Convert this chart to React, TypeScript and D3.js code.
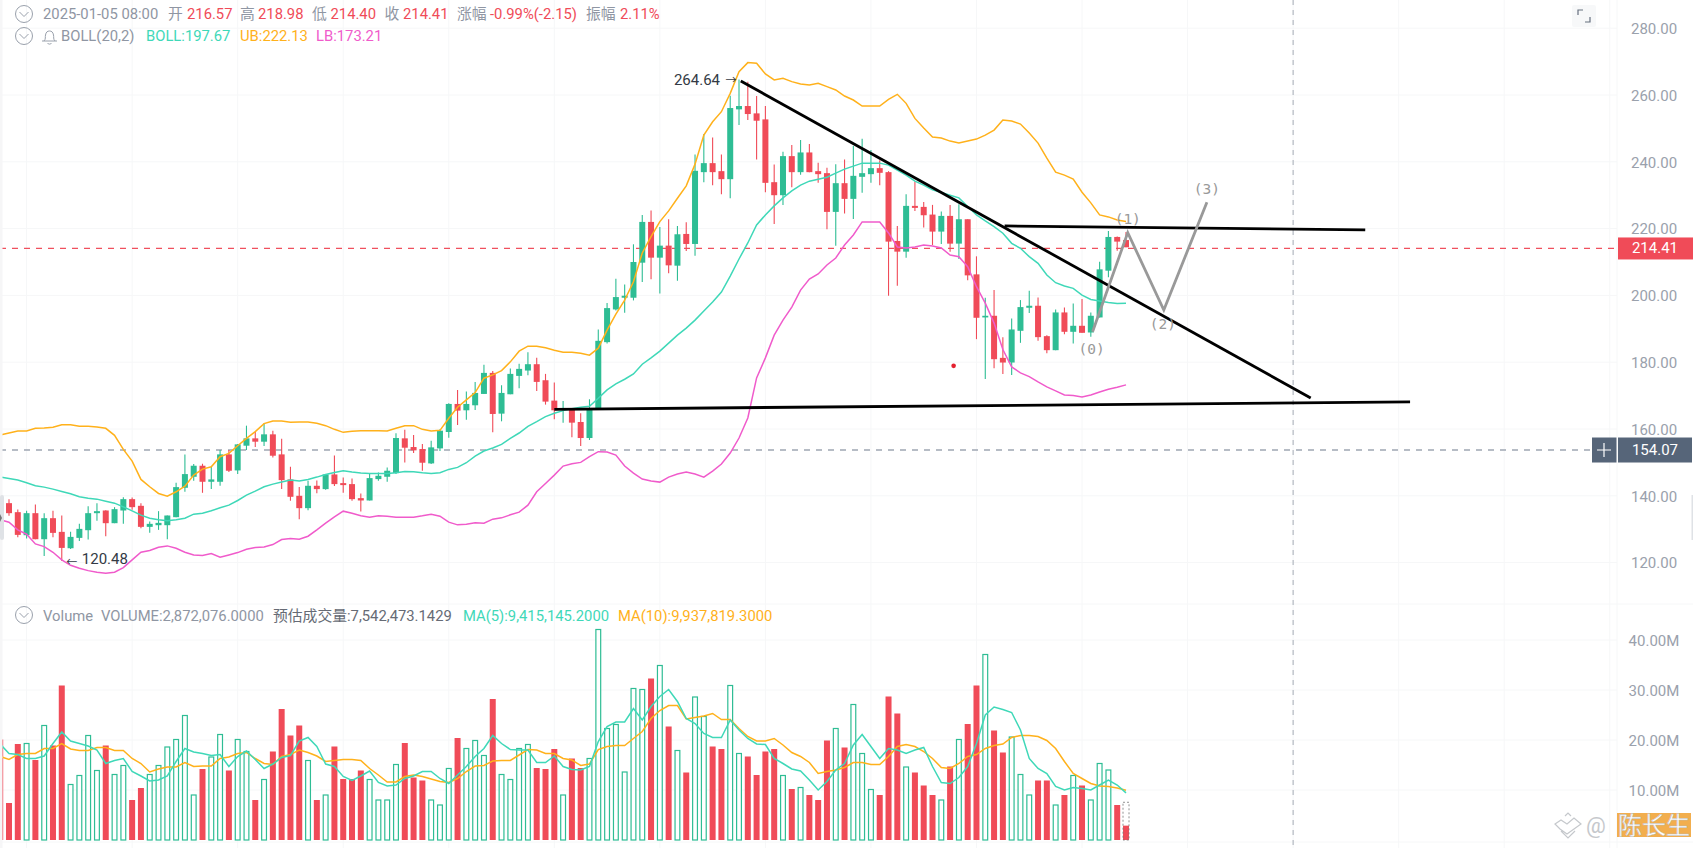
import { useEffect, useRef } from "react";
import * as d3 from "d3";

const width = 1693;
const height = 848;

const opens = [
  137.8,135.1,128.2,134.8,127.0,133.3,129.2,124.3,127.4,129.7,
  134.8,135.6,131.8,135.6,139.0,137.0,130.7,131.2,131.2,133.6,
  142.4,145.7,149.0,144.2,144.2,152.4,147.6,155.0,157.2,156.2,
  158.4,152.4,144.9,140.0,136.3,143.0,142.0,146.4,143.8,143.5,
  139.3,138.6,145.0,145.7,146.8,157.2,154.6,154.0,149.7,154.2,
  159.1,167.5,165.6,167.1,170.5,176.8,164.6,170.4,175.9,177.5,
  179.4,174.6,168.5,165.7,166.2,162.1,157.3,166.0,186.0,195.8,
  199.3,199.3,209.8,222.0,211.3,214.9,208.9,218.4,215.4,236.9,
  239.6,237.2,234.8,255.7,256.7,254.5,252.7,233.9,230.0,241.7,
  236.9,242.8,237.2,236.6,225.0,233.6,228.9,235.5,236.3,238.1,
  236.9,216.3,213.1,226.8,226.5,224.2,219.1,223.8,215.5,222.8,
  206.3,193.4,193.9,181.3,179.9,189.4,196.3,196.9,187.8,183.6,
  194.9,189.1,190.9,188.9,193.4,207.4,217.5,216.57,
];
const closes = [
  134.8,128.3,134.8,127.0,133.3,128.9,124.4,127.7,130.1,134.8,
  135.4,131.8,136.0,139.0,136.6,130.7,131.6,131.9,134.1,142.6,
  146.5,149.0,144.2,144.9,152.4,147.5,155.4,157.2,156.2,158.4,
  152.0,144.7,139.7,136.3,143.0,142.0,146.4,143.5,143.2,139.0,
  138.6,145.3,146.0,147.5,157.3,154.4,153.6,149.9,154.5,159.5,
  167.5,165.5,167.5,170.8,176.8,164.5,170.8,176.5,178.0,179.4,
  174.1,168.2,165.6,166.3,161.9,157.3,166.1,186.4,196.2,199.5,
  199.9,210.0,222.0,211.3,214.9,209.0,218.3,215.4,237.3,239.6,
  236.9,234.8,256.1,256.7,254.3,252.3,233.7,230.0,241.7,236.9,
  242.8,236.9,236.3,225.0,233.6,228.9,235.8,236.6,238.1,236.7,
  216.1,213.1,226.8,226.2,224.0,219.1,223.8,215.5,222.8,206.0,
  193.3,193.9,180.9,179.9,189.8,196.5,196.9,187.5,183.6,194.9,
  189.1,190.9,188.8,193.9,207.8,217.5,216.1,214.41,
];
const highs = [
  139.0,135.9,135.5,137.4,134.8,135.5,134.1,129.2,131.6,136.9,
  137.8,135.7,136.6,139.6,139.5,137.8,132.3,135.4,134.1,143.9,
  152.4,149.5,149.6,148.7,153.7,153.7,155.5,161.0,159.2,161.7,
  159.5,157.1,148.7,142.6,144.5,144.6,146.5,152.1,145.5,145.2,
  140.7,146.5,147.0,148.5,158.7,159.8,158.2,155.5,156.5,159.9,
  167.7,171.7,171.2,174.1,179.2,177.4,173.1,178.1,179.5,183.0,
  181.3,176.5,173.9,168.4,166.3,164.7,168.9,189.8,197.7,205.0,
  203.3,215.3,224.1,225.4,220.5,222.8,220.8,221.9,242.2,248.3,
  247.3,242.2,259.8,264.64,264.0,259.7,256.7,239.2,243.0,245.0,
  246.5,245.3,239.7,238.2,239.3,240.7,244.7,246.9,243.5,240.5,
  237.2,220.8,230.3,234.1,228.0,227.1,225.1,227.1,227.3,222.8,
  211.7,199.3,201.6,187.5,193.1,198.6,201.4,199.4,188.1,195.8,
  196.4,197.6,198.9,194.9,210.1,219.3,217.6,218.98,
];
const lows = [
  134.0,127.6,127.2,127.0,122.0,127.6,120.48,124.1,126.5,126.9,
  132.5,127.9,131.8,131.6,135.8,130.3,128.9,129.8,127.0,133.6,
  141.2,144.5,140.9,142.0,143.0,147.1,146.5,153.7,154.6,154.9,
  151.5,142.0,138.5,133.0,135.7,140.8,141.8,142.9,140.9,138.5,
  135.3,138.6,144.5,144.2,146.5,150.0,152.8,147.5,149.5,153.4,
  157.4,161.2,162.8,165.7,170.5,159.0,162.3,170.4,172.2,176.1,
  171.4,167.3,162.9,161.9,157.5,154.9,156.7,166.0,185.6,195.5,
  194.8,198.5,204.0,204.8,200.6,206.6,204.4,213.3,211.9,233.9,
  233.0,230.3,229.1,251.0,252.5,240.7,230.9,221.4,227.1,232.4,
  236.1,236.9,233.7,219.8,214.9,224.5,222.9,230.7,233.7,233.0,
  199.9,202.9,211.3,225.3,220.3,215.1,215.4,213.1,210.9,204.5,
  186.9,175.0,178.2,176.5,176.2,185.8,194.7,186.4,182.7,183.6,
  188.4,185.6,188.8,187.6,193.4,205.4,213.4,214.40,
];

// these four start one bar earlier than the candles (the bar cut off at the left edge)
const upperBand = [
  158.2,
  158.8,159.4,159.4,160.2,160.3,160.5,161.3,161.3,160.8,160.8,
  160.6,160.2,158.1,153.9,150.4,144.9,142.7,140.7,139.9,141.2,
  142.9,146.2,148.0,148.7,151.7,152.7,155.0,157.2,159.2,161.6,
  162.4,162.4,162.0,162.1,162.1,161.7,161.0,159.9,159.0,159.3,
  159.5,159.5,159.5,159.4,160.2,161.0,161.0,159.9,159.4,159.6,
  163.2,166.5,168.7,170.9,175.2,176.2,177.5,180.1,183.3,184.8,
  184.8,184.3,183.6,183.0,183.0,182.7,182.1,184.2,189.6,194.4,
  198.6,204.1,212.7,217.6,222.1,225.3,229.1,232.8,239.3,248.0,
  252.0,255.0,260.5,267.0,269.7,269.5,266.3,264.5,265.0,264.0,
  263.3,263.0,263.5,262.5,261.5,259.7,258.5,256.7,256.7,256.7,
  258.7,260.2,257.5,253.0,250.1,247.4,247.1,246.2,245.6,246.2,
  246.8,248.0,249.5,252.5,252.2,251.3,248.6,245.6,241.1,236.9,
  236.0,234.8,230.9,227.7,224.1,223.5,222.6,222.13,
];
const midBand = [
  145.6,
  145.2,144.7,143.9,143.0,142.6,142.0,141.3,140.6,139.7,139.3,
  139.0,138.4,137.8,136.7,135.5,134.2,133.3,132.8,132.5,132.8,
  133.3,134.5,134.8,135.5,136.4,137.2,138.6,140.2,141.4,142.7,
  143.5,144.1,144.7,144.4,144.9,145.6,146.4,147.0,147.5,147.1,
  146.8,146.7,146.7,146.7,146.9,147.3,147.2,146.9,146.7,146.9,
  147.9,148.5,149.9,151.9,153.4,154.3,155.4,157.2,158.8,160.8,
  162.2,163.7,164.7,165.5,166.1,166.5,166.8,169.2,171.7,173.5,
  174.9,176.5,179.4,181.3,183.3,185.7,188.1,190.2,192.6,195.3,
  198.0,201.0,205.8,210.9,215.7,221.1,224.1,226.8,229.2,231.3,
  233.0,234.2,234.8,235.4,236.6,237.8,238.7,239.6,239.6,239.6,
  239.0,237.5,236.0,234.2,233.0,231.6,230.8,230.0,229.2,226.6,
  224.1,222.3,220.6,218.6,215.6,214.1,211.6,209.6,206.1,203.8,
  202.8,202.1,200.1,198.8,198.3,197.9,197.6,197.67,
];
const lowerBand = [
  132.8,
  132.1,129.8,128.5,125.6,124.8,123.1,120.8,119.2,118.3,117.6,
  117.1,116.8,117.1,118.5,120.8,123.1,123.6,124.6,125.0,124.3,
  123.1,122.3,122.1,122.7,121.6,122.3,123.0,124.0,124.5,124.7,
  125.4,126.9,127.2,127.0,127.9,129.8,131.8,133.7,135.4,134.8,
  134.0,133.6,134.0,133.9,133.6,133.6,133.6,134.0,134.5,133.9,
  132.1,131.3,131.5,131.9,131.8,133.0,133.4,134.3,135.1,137.2,
  141.2,143.7,146.2,148.9,149.6,150.0,151.7,153.2,153.1,152.2,
  148.9,146.8,145.0,144.4,144.1,145.6,146.5,147.1,146.5,145.6,
  147.4,149.5,152.8,157.3,163.3,175.3,181.3,188.1,192.6,196.5,
  201.6,204.9,206.4,209.1,211.2,215.1,218.1,222.0,222.0,222.0,
  218.7,214.5,214.2,214.5,215.1,214.8,214.2,212.1,211.6,208.6,
  202.6,197.7,191.7,183.8,178.6,176.8,175.7,174.1,172.6,171.4,
  170.2,170.0,169.6,170.2,171.1,171.9,172.5,173.21,
];
const volumes = [
  20.1,
  7.4,19.2,19.3,16.0,22.9,18.9,30.9,11.1,12.9,20.9,
  13.9,18.9,13.1,14.9,8.0,10.4,13.1,14.9,18.6,20.1,
  24.9,9.0,14.2,16.6,21.1,13.9,20.1,17.7,8.0,12.1,
  17.7,26.2,20.9,22.9,15.9,8.0,9.0,18.7,12.2,12.2,
  13.9,12.1,8.0,8.0,15.1,19.4,12.5,11.9,8.0,7.0,
  14.3,20.4,18.3,19.9,16.9,28.2,13.1,12.1,18.3,19.1,
  14.4,14.2,18.2,9.0,16.3,14.4,16.3,42.1,22.3,23.1,
  13.6,30.3,30.1,32.3,34.9,22.7,17.9,13.5,28.6,24.7,
  18.7,18.2,30.9,17.3,16.7,13.0,17.7,18.2,12.9,10.2,
  10.5,9.0,8.0,19.9,22.3,18.5,27.1,17.3,10.1,9.0,
  28.7,25.3,14.6,13.5,10.9,9.0,8.0,14.7,20.1,23.2,
  30.9,37.1,21.9,17.5,20.6,13.1,9.0,11.9,11.9,7.0,
  9.0,12.9,10.9,8.0,15.3,14.0,7.0,2.87,
];
const volMa5 = [
  19.2,
  17.3,17.1,16.3,16.3,16.8,19.3,21.6,19.8,19.3,18.8,
  18.0,15.3,15.9,16.3,13.7,12.8,11.8,12.0,12.8,15.7,
  18.3,17.6,17.3,16.9,17.1,14.7,16.7,17.8,16.1,14.3,
  15.2,16.5,16.9,19.8,20.5,18.7,15.2,14.7,12.7,11.9,
  12.8,13.8,11.5,10.8,11.0,12.3,12.8,13.7,13.7,12.3,
  11.3,13.0,14.7,16.7,18.3,20.9,19.3,18.1,18.0,18.0,
  15.5,15.5,16.8,14.7,14.1,14.0,14.7,19.7,22.7,23.6,
  23.6,26.3,24.0,26.7,28.7,30.1,27.7,24.3,23.3,21.3,
  20.5,20.5,24.0,22.0,20.3,19.2,19.1,16.3,15.3,14.2,
  13.8,12.0,10.0,11.7,14.0,15.3,19.0,21.1,18.7,16.3,
  18.3,18.0,17.3,18.0,18.5,14.7,11.5,11.3,12.5,14.7,
  19.3,25.0,26.6,26.1,25.5,22.0,16.3,14.3,13.3,10.7,
  10.0,10.5,10.3,10.0,11.0,12.0,11.0,9.415,
];
const volMa10 = [
  16.7,
  16.1,17.1,17.3,17.3,18.3,18.3,19.3,18.2,17.9,17.9,
  18.5,18.5,17.9,17.9,16.3,15.3,13.6,14.2,14.6,14.6,
  15.5,14.7,14.8,14.8,16.3,16.6,17.3,17.5,16.3,15.3,
  15.1,16.7,17.1,18.0,17.5,16.8,15.7,15.9,16.1,16.1,
  15.9,14.3,13.0,11.6,11.6,12.7,13.0,12.7,12.2,11.7,
  11.5,12.3,13.7,14.8,14.9,15.8,15.9,15.9,17.0,18.1,
  18.0,17.3,17.3,16.3,16.0,14.9,15.2,18.1,18.7,18.9,
  18.9,20.3,21.7,24.3,25.9,26.9,26.9,24.2,24.5,24.8,
  25.3,24.1,24.1,22.3,20.7,19.8,19.8,20.3,19.0,17.5,
  16.7,15.5,13.3,13.7,14.0,14.5,15.5,15.5,15.1,15.1,
  16.7,18.7,19.1,18.7,17.7,16.3,14.5,14.3,15.3,16.7,
  17.1,18.3,18.9,19.2,20.5,20.9,20.9,20.7,19.9,18.3,
  15.7,13.3,12.3,11.3,10.8,10.7,10.4,9.938,
];
const estimatedVolume = 7.542;
const lastPrice = 214.41;
const markedPrice = 154.07;

// hand drawn lines on the chart: [bar index, price]
const fallingLine = [[83.2, 264.2], [148, 169.3]];
const supportLine = [[62, 165.9], [159.3, 168.1]];
const neckLine = [[113.2, 220.8], [154.2, 219.6]];
const wavePath = [[123.2, 189.1], [127.2, 218.8], [131.3, 195.6], [136.2, 227.9]];
const waveLabels = [
  { label: "(0)", bar: 123.1, price: 182.6 },
  { label: "(1)", bar: 127.2, price: 221.4 },
  { label: "(2)", bar: 131.2, price: 189.8 },
  { label: "(3)", bar: 136.2, price: 230.4 },
];
const redDot = [107.4, 178.9];
const verticalGridBars = d3.range(2, 190, 12);
const crosshairBar = 146;

const priceTicks = [120, 140, 160, 180, 200, 220, 240, 260, 280];
const volumeTicks = [10, 20, 30, 40];

const green = "#2ebd94";
const red = "#f04b58";
const orange = "#ffb11b";
const teal = "#3fd8b8";
const pink = "#f05bcb";
const gray = "#8f96a3";
const font = "Roboto, 'Noto Sans CJK SC', sans-serif";

export default function App() {
  const ref = useRef<SVGSVGElement | null>(null);

  useEffect(() => {
    const svg = d3.select(ref.current!);
    svg.selectAll("*").remove();

    const x = d3.scaleLinear().domain([0, 127]).range([9, 1126]);
    const y = d3.scaleLinear().domain([120, 280]).range([562.6, 28.2]);
    const yVol = d3.scaleLinear().domain([0, 40]).range([840, 640]);
    const isUp = (i: number) => i > 0 && closes[i - 1] >= opens[i - 1];
    const lineY = (p: number) => y(p) + 1.2;

    svg.append("rect").attr("width", width).attr("height", height).attr("fill", "#fff");

    // grid
    const grid = svg.append("g").attr("stroke", "#f6f7f8").attr("stroke-width", 1);
    grid.selectAll("line.v").data(verticalGridBars).join("line")
      .attr("x1", (d) => x(d)).attr("x2", (d) => x(d))
      .attr("y1", 0).attr("y2", height);
    grid.selectAll("line.p").data(priceTicks).join("line")
      .attr("x1", 0).attr("x2", 1617).attr("y1", (d) => y(d)).attr("y2", (d) => y(d));
    grid.selectAll("line.m").data(volumeTicks).join("line")
      .attr("x1", 0).attr("x2", 1617).attr("y1", (d) => yVol(d)).attr("y2", (d) => yVol(d));
    grid.selectAll("line.b").data([604, 842]).join("line")
      .attr("x1", 0).attr("x2", width).attr("y1", (d) => d).attr("y2", (d) => d);
    grid.append("line").attr("x1", 1617).attr("x2", 1617).attr("y1", 0).attr("y2", height);

    // right axes
    const axisPrice = d3.axisRight(y).tickValues(priceTicks).tickSize(0).tickFormat((d) => d3.format(".2f")(d as number));
    const axisVol = d3.axisRight(yVol).tickValues(volumeTicks).tickSize(0).tickFormat((d) => `${d3.format(".2f")(d as number)}M`);
    [svg.append("g").call(axisPrice), svg.append("g").call(axisVol)].forEach((g) => {
      g.attr("transform", "translate(1654,0.5)");
      g.select(".domain").remove();
      g.selectAll("text")
        .attr("x", 0).attr("text-anchor", "middle")
        .style("font", `15px ${font}`).style("fill", "#9aa1ac");
    });

    // price lines
    svg.append("line").attr("x1", 0).attr("x2", 1617).attr("y1", lineY(lastPrice)).attr("y2", lineY(lastPrice))
      .attr("stroke", "#f0505e").attr("stroke-dasharray", "6 6").attr("stroke-width", 1.3);
    svg.append("line").attr("x1", 0).attr("x2", 1592).attr("y1", lineY(markedPrice)).attr("y2", lineY(markedPrice))
      .attr("stroke", "#9ea7b3").attr("stroke-dasharray", "6 6").attr("stroke-width", 1.3);
    svg.append("line").attr("x1", x(crosshairBar)).attr("x2", x(crosshairBar)).attr("y1", 0).attr("y2", height)
      .attr("stroke", "#a6acb5").attr("stroke-dasharray", "5 5").attr("stroke-width", 1);

    // candles
    const candles = svg.append("g").selectAll("g").data(opens.map((o, i) => i)).join("g");
    candles.append("line")
      .attr("x1", (i) => x(i)).attr("x2", (i) => x(i))
      .attr("y1", (i) => y(highs[i])).attr("y2", (i) => y(lows[i]))
      .attr("stroke", (i) => (closes[i] >= opens[i] ? green : red)).attr("stroke-width", 1.1);
    candles.append("rect")
      .attr("x", (i) => x(i) - 3).attr("width", 6)
      .attr("y", (i) => y(Math.max(opens[i], closes[i])))
      .attr("height", (i) => Math.max(1, Math.abs(y(opens[i]) - y(closes[i]))))
      .attr("fill", (i) => (closes[i] >= opens[i] ? green : red));

    // bands
    const bandLine = d3.line<number>().x((_, i) => x(i - 1)).y((d) => y(d));
    [[upperBand, orange], [midBand, teal], [lowerBand, pink]].forEach(([vals, color]) => {
      svg.append("path").attr("d", bandLine(vals as number[]))
        .attr("fill", "none").attr("stroke", color as string).attr("stroke-width", 1.5);
    });

    // volume bars
    svg.append("g").selectAll("rect").data(volumes).join("rect")
      .attr("x", (_, i) => x(i - 1) - 3 + (isUp(i) ? 0.6 : 0))
      .attr("width", (_, i) => (isUp(i) ? 4.8 : 6))
      .attr("y", (d) => yVol(d))
      .attr("height", (d) => yVol(0) - yVol(d))
      .attr("fill", (_, i) => (isUp(i) ? "#fff" : red))
      .attr("stroke", (_, i) => (isUp(i) ? green : "none"))
      .attr("stroke-width", 1.2);
    svg.append("rect")
      .attr("x", x(127) - 3).attr("width", 6)
      .attr("y", yVol(estimatedVolume)).attr("height", yVol(0) - yVol(estimatedVolume))
      .attr("fill", "none").attr("stroke", "#777").attr("stroke-width", 0.8).attr("stroke-dasharray", "2 2");

    const volLine = d3.line<number>().x((_, i) => x(i - 1)).y((d) => yVol(d));
    [[volMa10, orange], [volMa5, teal]].forEach(([vals, color]) => {
      svg.append("path").attr("d", volLine(vals as number[]))
        .attr("fill", "none").attr("stroke", color as string).attr("stroke-width", 1.5);
    });

    // drawings
    const xyLine = d3.line<number[]>().x((d) => x(d[0])).y((d) => y(d[1]));
    [fallingLine, supportLine, neckLine].forEach((pts) => {
      svg.append("path").attr("d", xyLine(pts)).attr("fill", "none").attr("stroke", "#000").attr("stroke-width", 2.8);
    });
    svg.append("path").attr("d", xyLine(wavePath)).attr("fill", "none").attr("stroke", "#999").attr("stroke-width", 2.8);
    svg.append("g").selectAll("text").data(waveLabels).join("text")
      .attr("x", (d) => x(d.bar)).attr("y", (d) => y(d.price))
      .attr("text-anchor", "middle")
      .style("font", "14.5px 'DejaVu Sans Mono', monospace").style("fill", "#999")
      .text((d) => d.label);
    svg.append("circle").attr("cx", x(redDot[0])).attr("cy", y(redDot[1])).attr("r", 2.3).attr("fill", "#e4212f");

    // high and low marks
    const markFont = `15px ${font}`;
    svg.append("text").attr("x", x(83) - 19).attr("y", y(264.64) + 5).attr("text-anchor", "end")
      .style("font", markFont).style("fill", "#333a45").text("264.64");
    svg.append("text").attr("x", x(83) - 8).attr("y", y(264.64) + 4).attr("text-anchor", "middle")
      .style("font", `11px ${font}`).style("fill", "#333a45").text("→");
    svg.append("text").attr("x", x(6) + 10).attr("y", y(120.48) + 5).attr("text-anchor", "middle")
      .style("font", `11px ${font}`).style("fill", "#333a45").text("←");
    svg.append("text").attr("x", x(6) + 20).attr("y", y(120.48) + 3)
      .style("font", markFont).style("fill", "#333a45").text("120.48");

    // last price and marked price tags
    const tags = svg.append("g");
    tags.append("rect").attr("x", 1618).attr("width", 75).attr("y", lineY(lastPrice) - 11).attr("height", 22).attr("fill", red);
    tags.append("text").attr("x", 1655).attr("y", lineY(lastPrice) + 5).attr("text-anchor", "middle")
      .style("font", `15px ${font}`).style("fill", "#fff").text(d3.format(".2f")(lastPrice));
    tags.append("rect").attr("x", 1592).attr("width", 24.5).attr("y", lineY(markedPrice) - 12.5).attr("height", 25).attr("fill", "#566579");
    tags.append("rect").attr("x", 1618).attr("width", 74).attr("y", lineY(markedPrice) - 12.5).attr("height", 25).attr("fill", "#566579");
    tags.append("path").attr("d", `M1597 ${lineY(markedPrice)}h14M1604 ${lineY(markedPrice) - 7}v14`).attr("stroke", "#fff").attr("stroke-width", 1.2);
    tags.append("text").attr("x", 1655).attr("y", lineY(markedPrice) + 5).attr("text-anchor", "middle")
      .style("font", `15px ${font}`).style("fill", "#fff").text(d3.format(".2f")(markedPrice));

    // legends
    const legend = (yPos: number, parts: [number, string, string][]) => {
      svg.append("g").selectAll("text").data(parts).join("text")
        .attr("x", (d) => d[0]).attr("y", yPos)
        .style("font", `14.8px ${font}`).style("fill", (d) => d[2])
        .text((d) => d[1]);
    };
    legend(19, [
      [43, "2025-01-05 08:00", gray], [168, "开", gray], [187, "216.57", red],
      [240, "高", gray], [258, "218.98", red], [312, "低", gray], [330.5, "214.40", red],
      [384.5, "收", gray], [403, "214.41", red], [457, "涨幅", gray], [490, "-0.99%(-2.15)", red],
      [586, "振幅", gray], [620, "2.11%", red],
    ]);
    legend(41, [
      [61, "BOLL(20,2)", gray], [146, "BOLL:197.67", teal], [240, "UB:222.13", orange], [316, "LB:173.21", pink],
    ]);
    legend(621, [
      [43, "Volume", gray], [101, "VOLUME:2,872,076.0000", gray], [273, "预估成交量:7,542,473.1429", "#666b75"],
      [463, "MA(5):9,415,145.2000", teal], [618, "MA(10):9,937,819.3000", orange],
    ]);

    // small chevron icons and bell
    [14, 36, 615].forEach((cy) => {
      svg.append("circle").attr("cx", 24).attr("cy", cy).attr("r", 8.5).attr("fill", "none").attr("stroke", "#9aa1ac");
      svg.append("path").attr("d", `M19.5 ${cy - 2}l4.5 4.5l4.5 -4.5`).attr("fill", "none").attr("stroke", "#9aa1ac");
    });
    svg.append("path").attr("d", "M42 41h15M44 41c2 -2 1 -4 1.500 -6c0.500 -3 2 -4 4 -4s3.500 1 4 4c0.500 2 -0.500 4 1.500 6M47.500 43c0.500 1.500 3.500 1.500 4 0")
      .attr("fill", "none").attr("stroke", "#9aa1ac");

    // fullscreen icon
    svg.append("rect").attr("x", 1572).attr("y", 5).attr("width", 24).attr("height", 22).attr("fill", "#f7f8f9").attr("rx", 2);
    svg.append("path").attr("d", "M1578 15v-5h5M1590 17v5h-5").attr("fill", "none").attr("stroke", "#66707f").attr("stroke-width", 1.2);

    // side handles and gutter
    svg.append("rect").attr("x", 0).attr("width", 2.5).attr("height", height).attr("fill", "#f6f6f7");
    svg.append("rect").attr("x", 0).attr("y", 495).attr("width", 4).attr("height", 45).attr("rx", 2).attr("fill", "#dfe2e6");
    svg.append("path").attr("d", "M0 514l2 4l-2 4z").attr("fill", "#777");
    svg.append("rect").attr("x", 1691.5).attr("y", 495).attr("width", 1.5).attr("height", 45).attr("fill", "#dfe2e6");

    // watermark
    svg.append("path").attr("d", "M1555 824l6 -4l6 4l7 -6l7 6l-7 5l-7 5l-7 -5zM1561 831l7 7l7 -7M1565 816l3 -3l3 3")
      .attr("fill", "none").attr("stroke", "#c5c8cc").attr("stroke-width", 1.2);
    svg.append("text").attr("x", 1596).attr("y", 833).attr("text-anchor", "middle")
      .style("font", `22px ${font}`).style("fill", "#c5c8cc").text("@");
    svg.append("rect").attr("x", 1617).attr("y", 813).attr("width", 74).attr("height", 24).attr("fill", "#f2ae4e");
    svg.append("text").attr("x", 1654).attr("y", 834).attr("text-anchor", "middle")
      .style("font", "24px 'Noto Sans CJK SC'").style("fill", "#fff")
      .style("stroke", "#b9b9b9").style("stroke-width", 0.5).text("陈长生");
  }, []);

  return (
    <svg
      ref={ref}
      width={width}
      height={height}
      style={{ position: "absolute", left: 0, top: 0, display: "block" }}
    />
  );
}
